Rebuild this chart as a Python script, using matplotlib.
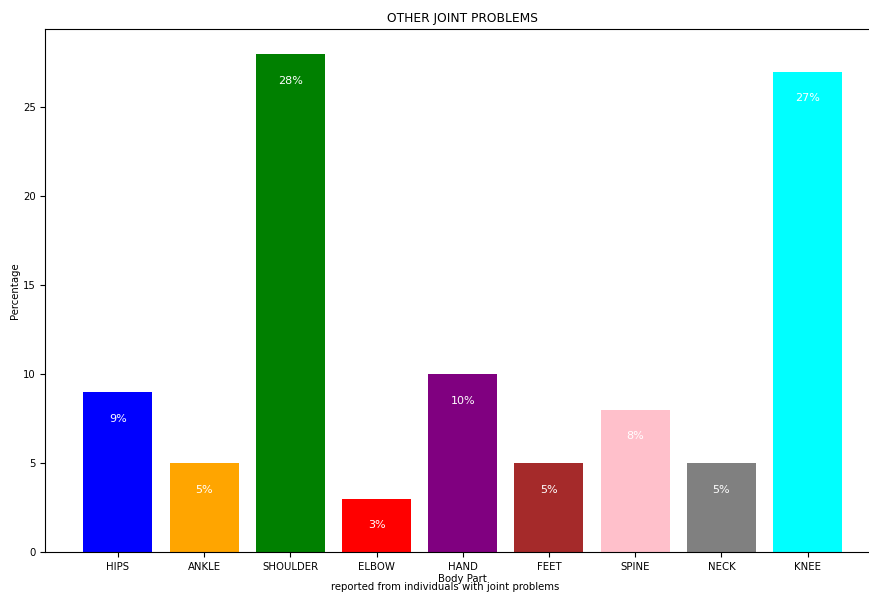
import matplotlib
matplotlib.use('Agg')
from matplotlib import pyplot as plt

parts = ['HIPS', 'ANKLE', 'SHOULDER', 'ELBOW', 'HAND', 'FEET', 'SPINE', 'NECK', 'KNEE']
values = [9, 5, 28, 3, 10, 5, 8, 5, 27]
colors = ['blue', 'orange', 'green', 'red', 'purple', 'brown', 'pink', 'gray', 'cyan']

plt.rcParams['font.size'] = 7.3

fig = plt.figure(figsize=(8.7, 5.95), dpi=100)
ax = fig.add_axes([45.5 / 870, 43 / 595, (880 - 45.5) / 870, (552 - 29) / 595])

bars = ax.bar(parts, values, color=colors)
for i, v in enumerate(values):
    ax.text(i, v - 1.5, '%d%%' % v, ha='center', va='center', color='white', fontsize=8)

ax.set_title('OTHER JOINT PROBLEMS', fontsize=8.8, pad=5)
ax.set_xlabel('Body Part', labelpad=2)
ax.set_ylabel('Percentage', labelpad=2)
# footnote sits just under the x label, overlapping it slightly as in the original
fig.text(445 / 870, 1 - 587 / 595, 'reported from individuals with joint problems', ha='center', va='center')

fig.savefig('out.png', dpi=100)
